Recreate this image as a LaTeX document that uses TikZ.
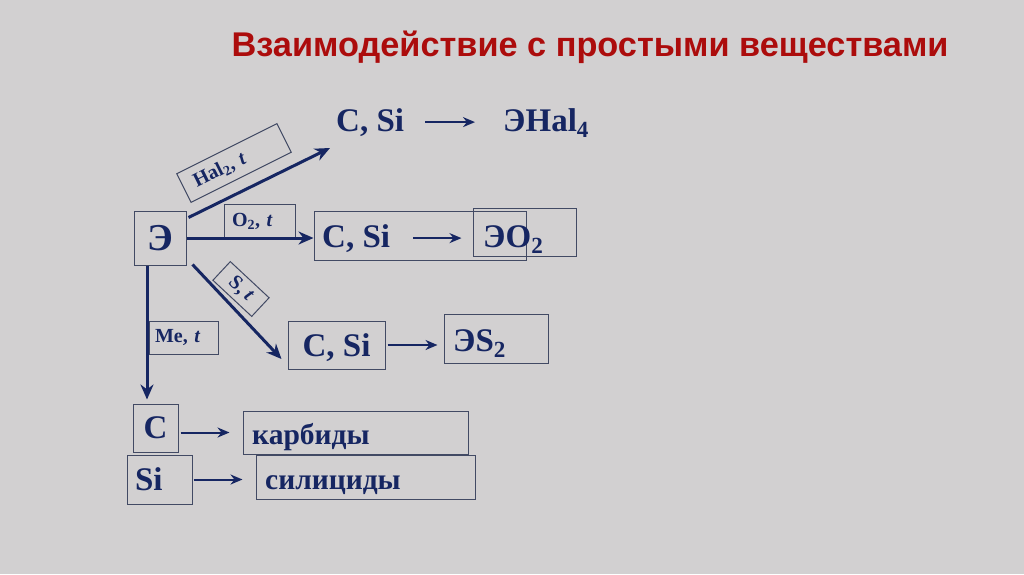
\documentclass[tikz,border=0pt]{standalone}
\usepackage{fontspec}
\setmainfont{Liberation Serif}
\newfontfamily\titlefont{Liberation Sans}
\usetikzlibrary{arrows.meta, positioning, calc}
\definecolor{bggray}{RGB}{210,208,209}
\definecolor{navy}{RGB}{22,38,98}
\definecolor{frameline}{RGB}{66,74,100}
\definecolor{titlered}{RGB}{172,12,12}

\begin{document}
\begin{tikzpicture}[x=1pt, y=-1pt, >=Stealth]
  \tikzstyle{frame} = [rectangle, draw=frameline, line width=1pt, inner sep=0pt, font=\fontsize{33}{36}\selectfont\bfseries\color{navy}]
  \tikzstyle{chem} = [inner sep=0pt, anchor=base west, font=\fontsize{33}{36}\selectfont\bfseries\color{navy}]
  \tikzstyle{word} = [chem, font=\fontsize{29.5}{32}\selectfont\bfseries\color{navy}]
  \tikzstyle{cond} = [rectangle, draw=frameline, line width=1pt, inner ysep=0pt, font=\fontsize{20}{22}\selectfont\bfseries\color{navy}]
  \tikzstyle{arrmain} = [line width=3pt, navy, -{Stealth[length=15pt, width=13pt]}]
  \tikzstyle{arrsmall} = [line width=2pt, navy, -{Stealth[length=12pt, width=10pt]}]

  % Background and title
  \fill[bggray] (0,0) rectangle (1024,574);
  \node[font=\titlefont\bfseries\fontsize{34.3}{38}\selectfont, text=titlered] (title) at (590,47) {Взаимодействие с простыми веществами};

  % Element
  \node[frame, minimum width=52pt, minimum height=54pt, font=\fontsize{38}{40}\selectfont\bfseries\color{navy}] (E) at (160,238) {Э};

  % Row 1: halides
  \node[chem] (cs1) at (336,131) {C, Si};
  \node[chem] (ehal) at (503,131) {ЭHal\textsubscript{4}};

  % Row 2: oxides
  \node[frame, minimum width=212pt, minimum height=49pt] (cs2box) at (420,235.5) {};
  \node[frame, minimum width=103pt, minimum height=48pt] (eo2box) at (524.5,232) {};
  \node[chem] (cs2) at (322,247) {C, Si};
  \node[chem] (eo2) at (483,247) {ЭO\textsubscript{2}};

  % Row 3: sulfides
  \node[frame, minimum width=97pt, minimum height=48pt, text depth=0pt] (cs3) at (336.5,345) {C, Si};
  \node[frame, minimum width=104pt, minimum height=49pt] (es2box) at (496,338.5) {};
  \node[chem] (es2) at (453,351) {ЭS\textsubscript{2}};

  % Rows 4-5: carbides and silicides
  \node[frame, minimum width=45pt, minimum height=48pt] (C) at (155.5,428) {C};
  \node[frame, minimum height=49pt, inner xsep=8pt, text width=49pt, align=left] (Si) at (159.5,479.5) {Si};
  \node[frame, minimum width=225pt, minimum height=43pt] (karbbox) at (355.5,432.5) {};
  \node[frame, minimum width=219pt, minimum height=44pt] (silicbox) at (365.5,477) {};
  \node[word] (karb) at (252,444) {карбиды};
  \node[word] (silic) at (265,489) {силициды};

  % Conditions
  \node[cond, minimum height=32pt, inner xsep=12pt, text width=88pt, align=left, rotate=26.6] (hal) at (234,163) {Hal\textsubscript{2}, \textit{t}};
  \node[cond, minimum height=34pt, inner xsep=8pt, text width=55pt, align=left] (oxy) at (259.5,221) {O\textsubscript{2}, \textit{t}};
  \node[cond, minimum width=53pt, minimum height=25.5pt, inner xsep=2pt, rotate=-43] (sul) at (241,289) {S, \textit{t}};
  \node[cond, minimum height=33pt, inner xsep=6pt, text width=57pt, align=left] (met) at (183.5,337.5) {Me, \textit{t}};

  % Arrows from the element
  \coordinate (halend) at (330,148);
  \coordinate (sulend) at ($(cs3.west)+(-6,14)$);
  \draw[arrmain] ($(E.north east)+(2,7)$) -- (halend);
  \draw[arrmain] (E.east) -- (E.east -| cs2box.west);
  \draw[arrmain] ($(E.south east)+(6,-1)$) -- (sulend);
  \draw[arrmain] ($(E.south)+(-13,0)$) -- ($(C.north)+(-8.5,-4)$);

  % Arrows to products
  \draw[arrsmall, shorten <=21pt] (cs1.east) -- ($(cs1.east -| ehal.west)+(-28,0)$);
  \draw[arrsmall, shorten <=23pt, shorten >=11pt] (cs2.east) -- (cs2.east -| eo2box.west);
  \draw[arrsmall, shorten <=2pt, shorten >=6pt] (cs3.east) -- (cs3.east -| es2box.west);
  \draw[arrsmall, shorten <=2pt, shorten >=13pt] (C.east |- karbbox.west) -- (karbbox.west);
  \draw[arrsmall, shorten <=1pt, shorten >=13pt] (Si.east) -- (Si.east -| silicbox.west);
\end{tikzpicture}
\end{document}
